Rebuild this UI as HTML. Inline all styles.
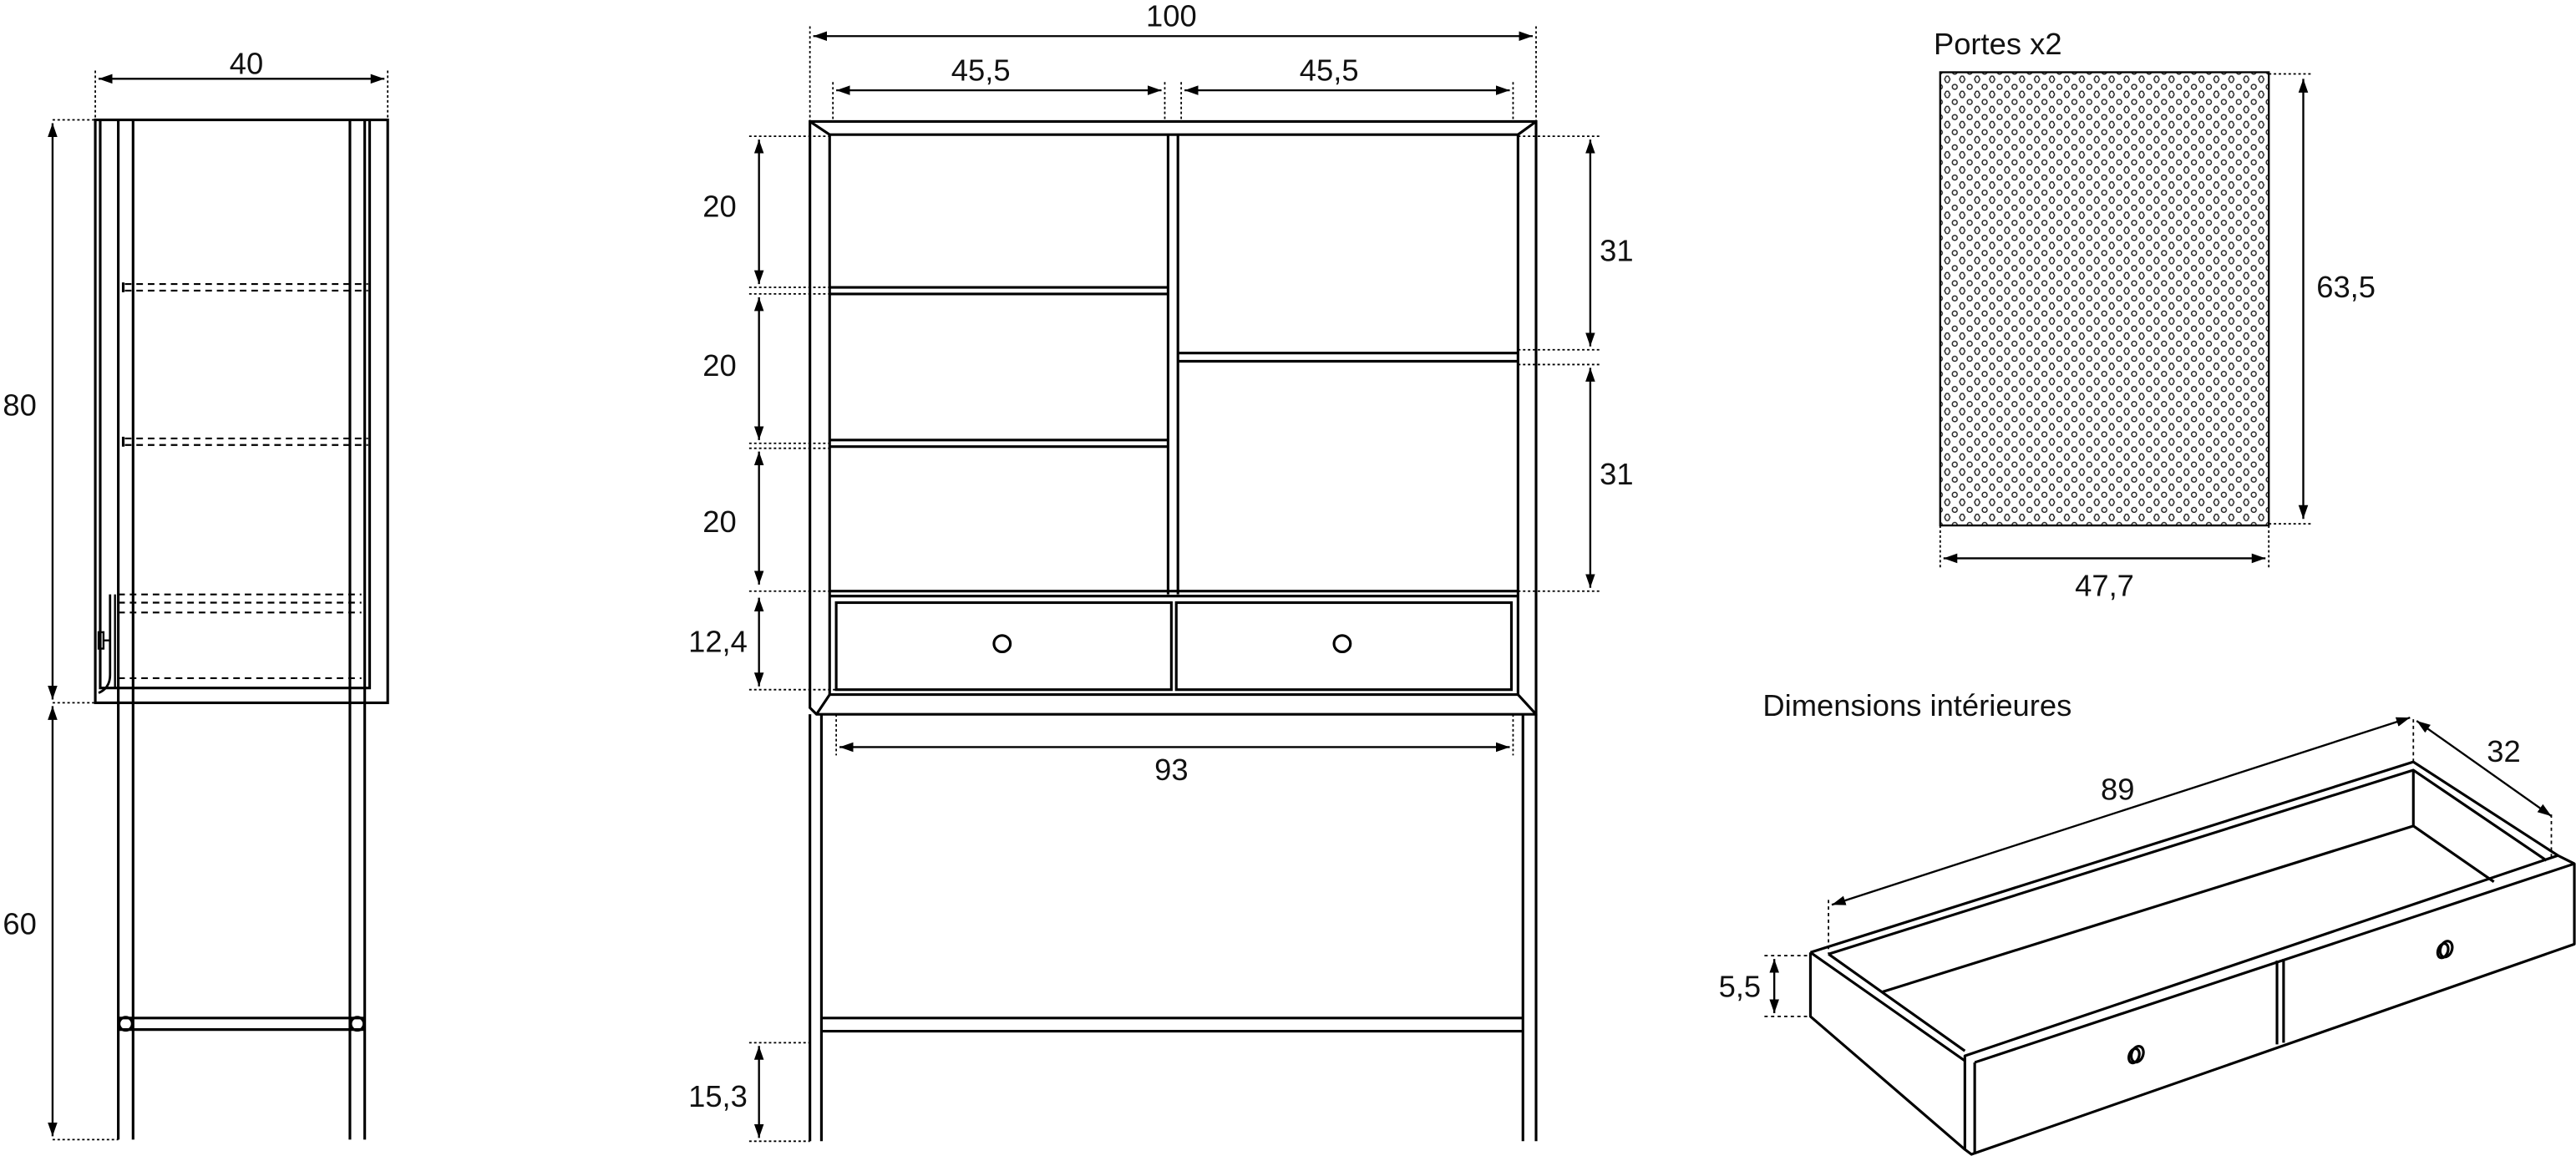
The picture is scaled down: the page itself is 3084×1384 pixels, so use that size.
<!DOCTYPE html>
<html><head><meta charset="utf-8"><style>
html,body{margin:0;padding:0;background:#fff;}
svg{display:block;}
text{font-family:"Liberation Sans",sans-serif;font-size:18.5px;fill:#111;}
</style></head><body>
<svg width="3084" height="1384" viewBox="0 0 1568 704" preserveAspectRatio="none" xmlns="http://www.w3.org/2000/svg">
<defs>
<marker id="a" viewBox="0 0 10 10" refX="10" refY="5" markerWidth="7" markerHeight="7" orient="auto-start-reverse"><path d="M0,1.5 L10,5 L0,8.5 Z" fill="#000"/></marker>
<pattern id="p" x="1183" y="46" width="9.1" height="9.2" patternUnits="userSpaceOnUse">
<path d="M2.3,0.3 a1.1,1.1 0 0 1 1.1,1.1 a1.1,1.1 0 0 1 0,1.8 a1.1,1.1 0 0 1 -1.1,1.1 a1.1,1.1 0 0 1 -1.1,-1.1 a1.1,1.1 0 0 1 0,-1.8 a1.1,1.1 0 0 1 1.1,-1.1z" fill="none" stroke="#222" stroke-width="0.75"/>
<circle cx="6.85" cy="6.9" r="1.5" fill="none" stroke="#222" stroke-width="0.75"/>
</pattern>
</defs>
<g fill="none" stroke="#000" stroke-width="1.6">
<!-- SIDE VIEW -->
<rect x="58" y="73" width="178" height="355"/>
<path d="M61,73 V419 H225 V73"/>
<path d="M72,73 V694 M81,73 V694 M213,73 V694 M222,73 V694"/>
<path d="M67,362 V411 Q67,419 60,422" stroke-width="1.4"/>
<path d="M70,362 V419" stroke-width="1.2"/>
<rect x="60" y="385" width="3" height="10" stroke-width="1.2"/>
<path d="M63,390 H67" stroke-width="1.2"/>
<g stroke-dasharray="4,3" stroke-width="1.1">
<path d="M76,173 H224 M76,177 H224 M76,267 H224 M76,271 H224 M72,362 H220 M72,367 H220 M72,373 H220 M72,413 H220"/>
</g>
<path d="M75,172 V178 M75,266 V272" stroke-width="1.6"/>
<path d="M72,620 H222 M72,627 H222"/>
<circle cx="76.5" cy="623.5" r="4"/><circle cx="217.5" cy="623.5" r="4"/>
<g stroke-width="1.2">
<path d="M32,75 V426" marker-start="url(#a)" marker-end="url(#a)"/>
<path d="M32,430 V692" marker-start="url(#a)" marker-end="url(#a)"/>
<path d="M60,48 H234" marker-start="url(#a)" marker-end="url(#a)"/>
</g>
<g stroke-width="0.9" stroke-dasharray="1.5,1.5">
<path d="M32,73 H58 M32,428 H58 M32,694 H72 M58,43 V73 M236,43 V73"/>
</g>

<!-- FRONT VIEW -->
<path d="M493,74 H935 V435 H497 L493,431 Z"/>
<path d="M505,82 H924 V423 H505 Z"/>
<path d="M493,74 L505,82 M935,74 L924,82 M497,435 L505,423 M935,435 L924,423"/>
<path d="M711,82 V362 M717,82 V362"/>
<path d="M505,175 H711 M505,179 H711 M505,268 H711 M505,272 H711 M717,215 H924 M717,220 H924"/>
<path d="M505,360 H924 M505,363 H924"/>
<rect x="509" y="367" width="204" height="53"/><rect x="716" y="367" width="204" height="53"/>
<circle cx="610" cy="392" r="5"/><circle cx="817" cy="392" r="5"/>
<path d="M493,435 V695 M500,435 V695 M927,435 V695 M935,435 V695"/>
<path d="M500,620 H927 M500,628 H927"/>
<g stroke-width="1.2">
<path d="M495,22 H933" marker-start="url(#a)" marker-end="url(#a)"/>
<path d="M509,55 H707" marker-start="url(#a)" marker-end="url(#a)"/>
<path d="M721,55 H919" marker-start="url(#a)" marker-end="url(#a)"/>
<path d="M462,85 V173" marker-start="url(#a)" marker-end="url(#a)"/>
<path d="M462,181 V268" marker-start="url(#a)" marker-end="url(#a)"/>
<path d="M462,275 V356" marker-start="url(#a)" marker-end="url(#a)"/>
<path d="M462,364 V418" marker-start="url(#a)" marker-end="url(#a)"/>
<path d="M462,637 V693" marker-start="url(#a)" marker-end="url(#a)"/>
<path d="M968,85 V211" marker-start="url(#a)" marker-end="url(#a)"/>
<path d="M968,224 V358" marker-start="url(#a)" marker-end="url(#a)"/>
<path d="M511,455 H919" marker-start="url(#a)" marker-end="url(#a)"/>
</g>
<g stroke-width="0.9" stroke-dasharray="1.5,1.5">
<path d="M493,16 V74 M935,16 V74 M507,50 V74 M709,50 V74 M719,50 V74 M921,50 V74"/>
<path d="M456,83 H505 M456,175 H505 M456,179 H505 M456,270 H505 M456,273 H505 M456,360 H505 M456,420 H509 M456,635 H493 M456,695 H493"/>
<path d="M924,83 H974 M924,213 H974 M924,222 H974 M924,360 H974"/>
<path d="M509,435 V460 M921,435 V460"/>
</g>

<!-- DOOR -->
<rect x="1181" y="44" width="200" height="276" fill="url(#p)" stroke-width="1.2"/>
<g stroke-width="1.2">
<path d="M1402,48 V316" marker-start="url(#a)" marker-end="url(#a)"/>
<path d="M1183,340 H1379" marker-start="url(#a)" marker-end="url(#a)"/>
</g>
<g stroke-width="0.9" stroke-dasharray="1.5,1.5">
<path d="M1381,45 H1408 M1381,319 H1408 M1181,320 V346 M1381,320 V346"/>
</g>

<!-- DRAWER -->
<g stroke-width="1.6" stroke-linejoin="round">
<path d="M1102,580 L1469,464 L1557,521"/>
<path d="M1113,581 L1469,469 L1550,524"/>
<path d="M1102,580 V619 L1196,700"/>
<path d="M1102,580 L1196,646 M1113,581 L1196,640"/>
<path d="M1469,469 V503 M1146,604 L1469,503 L1518,537"/>
<path d="M1196,643 L1557,521 L1567,526 V575 L1200,703 L1196,700 Z"/>
<path d="M1202,647 L1567,526 M1202,647 V703"/>
<path d="M1386,585 V636 M1390,584 V635"/>
</g>
<ellipse cx="1301" cy="642" rx="3.5" ry="5" transform="rotate(20 1301 642)"/>
<ellipse cx="1299" cy="643" rx="3" ry="4.5" transform="rotate(20 1299 643)"/>
<ellipse cx="1489" cy="578" rx="3.5" ry="5" transform="rotate(20 1489 578)"/>
<ellipse cx="1487" cy="579" rx="3" ry="4.5" transform="rotate(20 1487 579)"/>
<g stroke-width="1.2">
<path d="M1115,551 L1467,437" marker-start="url(#a)" marker-end="url(#a)"/>
<path d="M1471,439 L1553,497" marker-start="url(#a)" marker-end="url(#a)"/>
<path d="M1080,584 V617" marker-start="url(#a)" marker-end="url(#a)"/>
</g>
<g stroke-width="0.9" stroke-dasharray="2,2">
<path d="M1113,548 V581 M1469,438 V464 M1553,496 V524 M1074,582 H1102 M1074,619 H1102"/>
</g>
</g>

<text x="150" y="45" text-anchor="middle">40</text>
<text x="12" y="253" text-anchor="middle">80</text>
<text x="12" y="569" text-anchor="middle">60</text>
<text x="713" y="16" text-anchor="middle">100</text>
<text x="597" y="49" text-anchor="middle">45,5</text>
<text x="809" y="49" text-anchor="middle">45,5</text>
<text x="438" y="132" text-anchor="middle">20</text>
<text x="438" y="229" text-anchor="middle">20</text>
<text x="438" y="324" text-anchor="middle">20</text>
<text x="437" y="397" text-anchor="middle">12,4</text>
<text x="437" y="674" text-anchor="middle">15,3</text>
<text x="984" y="159" text-anchor="middle">31</text>
<text x="984" y="295" text-anchor="middle">31</text>
<text x="713" y="475" text-anchor="middle">93</text>
<text x="1177" y="33">Portes x2</text>
<text x="1428" y="181" text-anchor="middle">63,5</text>
<text x="1281" y="363" text-anchor="middle">47,7</text>
<text x="1073" y="436">Dimensions intérieures</text>
<text x="1289" y="487" text-anchor="middle">89</text>
<text x="1524" y="464" text-anchor="middle">32</text>
<text x="1059" y="607" text-anchor="middle">5,5</text>
</svg>
</body></html>
